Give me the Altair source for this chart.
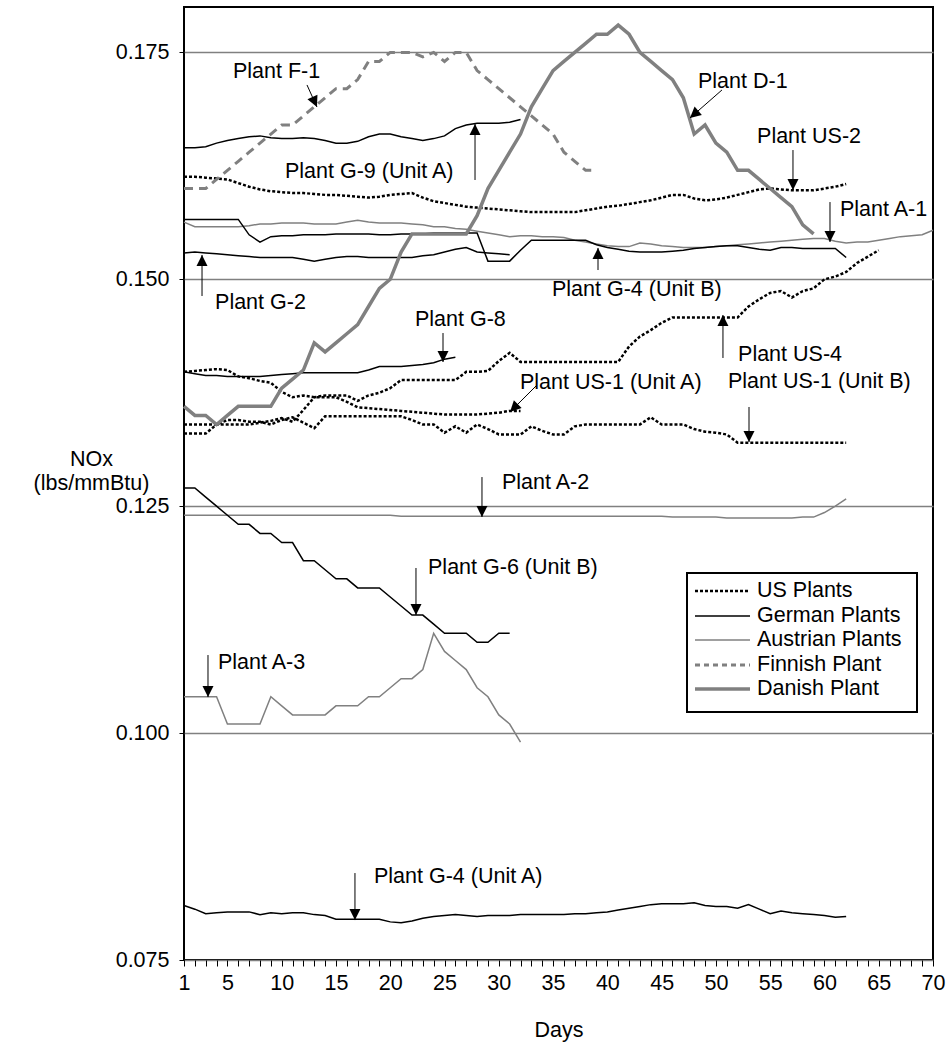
import math
import altair as alt
import pandas as pd

# ---------------- data (NOx, lbs/mmBtu, one value per day starting at day 1) ----------------
us1_unit_a = [0.1398, 0.1399, 0.1400, 0.1401, 0.1400, 0.1393, 0.1391, 0.1388, 0.1386, 0.1376,
              0.1370, 0.1372, 0.1370, 0.1370, 0.1370, 0.1365, 0.1359, 0.1358, 0.1357, 0.1356,
              0.1355, 0.1354, 0.1353, 0.1352, 0.1351, 0.1351, 0.1351, 0.1351, 0.1352, 0.1353,
              0.1355, 0.1355]
us1_unit_b = [0.1340, 0.1340, 0.1340, 0.1340, 0.1345, 0.1345, 0.1343, 0.1343, 0.1340, 0.1345,
              0.1348, 0.1342, 0.1336, 0.1349, 0.1349, 0.1349, 0.1349, 0.1349, 0.1349, 0.1349,
              0.1349, 0.1345, 0.1340, 0.1340, 0.1331, 0.1338, 0.1331, 0.1340, 0.1335, 0.1329,
              0.1329, 0.1329, 0.1338, 0.1333, 0.1329, 0.1329, 0.1338, 0.1340, 0.1340, 0.1340,
              0.1340, 0.1340, 0.1340, 0.1348, 0.1340, 0.1340, 0.1340, 0.1335, 0.1332, 0.1331,
              0.1329, 0.1320, 0.1320, 0.1320, 0.1320, 0.1320, 0.1320, 0.1320, 0.1320, 0.1320,
              0.1320, 0.1320]
us2 = [0.1613, 0.1613, 0.1612, 0.1611, 0.1610, 0.1606, 0.1602, 0.1599, 0.1597, 0.1596,
       0.1595, 0.1595, 0.1594, 0.1593, 0.1593, 0.1592, 0.1591, 0.1590, 0.1591, 0.1593,
       0.1594, 0.1595, 0.1590, 0.1586, 0.1584, 0.1582, 0.1580, 0.1579, 0.1578, 0.1577,
       0.1576, 0.1575, 0.1574, 0.1574, 0.1574, 0.1574, 0.1574, 0.1576, 0.1578, 0.1580,
       0.1581, 0.1583, 0.1585, 0.1587, 0.1590, 0.1593, 0.1593, 0.1589, 0.1587, 0.1588,
       0.1590, 0.1593, 0.1596, 0.1599, 0.1600, 0.1599, 0.1598, 0.1598, 0.1598, 0.1600,
       0.1602, 0.1605]
us4 = [0.1330, 0.1330, 0.1330, 0.1340, 0.1340, 0.1340, 0.1340, 0.1342, 0.1344, 0.1347,
       0.1343, 0.1356, 0.1370, 0.1372, 0.1372, 0.1372, 0.1366, 0.1372, 0.1375, 0.1380,
       0.1389, 0.1389, 0.1389, 0.1389, 0.1389, 0.1389, 0.1398, 0.1398, 0.1399, 0.1410,
       0.1419, 0.1409, 0.1409, 0.1409, 0.1409, 0.1409, 0.1409, 0.1409, 0.1409, 0.1409,
       0.1409, 0.1426, 0.1437, 0.1444, 0.1452, 0.1458, 0.1458, 0.1458, 0.1458, 0.1458,
       0.1458, 0.1458, 0.1470, 0.1478, 0.1485, 0.1487, 0.1480, 0.1487, 0.1490, 0.1500,
       0.1503, 0.1508, 0.1518, 0.1525, 0.1532]

g2 = [0.1529, 0.1530, 0.1529, 0.1528, 0.1527, 0.1526, 0.1525, 0.1524, 0.1524, 0.1524,
      0.1524, 0.1522, 0.1520, 0.1522, 0.1524, 0.1525, 0.1525, 0.1524, 0.1524, 0.1524,
      0.1524, 0.1524, 0.1526, 0.1527, 0.1530, 0.1533, 0.1535, 0.1530, 0.1529, 0.1528,
      0.1527]
g4_unit_a = [0.0810, 0.0806, 0.0801, 0.0802, 0.0803, 0.0803, 0.0803, 0.0800, 0.0802, 0.0801,
             0.0802, 0.0802, 0.0800, 0.0799, 0.0795, 0.0795, 0.0795, 0.0795, 0.0795, 0.0792,
             0.0791, 0.0793, 0.0796, 0.0798, 0.0799, 0.0800, 0.0799, 0.0798, 0.0799, 0.0799,
             0.0799, 0.0800, 0.0800, 0.0800, 0.0800, 0.0800, 0.0801, 0.0801, 0.0802, 0.0803,
             0.0805, 0.0807, 0.0809, 0.0811, 0.0812, 0.0812, 0.0812, 0.0813, 0.0810, 0.0809,
             0.0809, 0.0807, 0.0811, 0.0806, 0.0801, 0.0804, 0.0802, 0.0801, 0.0800, 0.0799,
             0.0797, 0.0798]
g4_unit_b = [0.1566, 0.1566, 0.1566, 0.1566, 0.1566, 0.1566, 0.1549, 0.1541, 0.1547, 0.1548,
             0.1548, 0.1549, 0.1549, 0.1549, 0.1550, 0.1550, 0.1550, 0.1550, 0.1549, 0.1549,
             0.1550, 0.1550, 0.1550, 0.1551, 0.1551, 0.1551, 0.1551, 0.1551, 0.1520, 0.1520,
             0.1520, 0.1532, 0.1543, 0.1543, 0.1543, 0.1543, 0.1543, 0.1543, 0.1538, 0.1535,
             0.1533, 0.1531, 0.1530, 0.1530, 0.1530, 0.1531, 0.1532, 0.1534, 0.1535, 0.1536,
             0.1537, 0.1537, 0.1535, 0.1533, 0.1532, 0.1535, 0.1535, 0.1534, 0.1534, 0.1534,
             0.1534, 0.1524]
g6_unit_b = [0.127, 0.127, 0.126, 0.125, 0.124, 0.123, 0.123, 0.122, 0.122, 0.121,
             0.121, 0.119, 0.119, 0.118, 0.117, 0.117, 0.116, 0.116, 0.116, 0.115,
             0.114, 0.113, 0.113, 0.112, 0.111, 0.111, 0.111, 0.110, 0.110, 0.111,
             0.111]
g8 = [0.1398, 0.1396, 0.1394, 0.1394, 0.1393, 0.1393, 0.1393, 0.1393, 0.1394, 0.1395,
      0.1396, 0.1397, 0.1397, 0.1397, 0.1397, 0.1397, 0.1397, 0.1400, 0.1404, 0.1404,
      0.1404, 0.1405, 0.1406, 0.1408, 0.1412, 0.1414]
g9_unit_a = [0.1645, 0.1645, 0.1646, 0.1650, 0.1653, 0.1655, 0.1657, 0.1658, 0.1656, 0.1655,
             0.1655, 0.1656, 0.1655, 0.1653, 0.1650, 0.1650, 0.1652, 0.1657, 0.1660, 0.1660,
             0.1657, 0.1655, 0.1653, 0.1655, 0.1658, 0.1666, 0.1670, 0.1672, 0.1672, 0.1672,
             0.1673, 0.1676]

a1 = [0.1563, 0.1558, 0.1558, 0.1558, 0.1558, 0.1558, 0.1559, 0.1561, 0.1561, 0.1562,
      0.1562, 0.1562, 0.1561, 0.1561, 0.1561, 0.1563, 0.1565, 0.1563, 0.1562, 0.1562,
      0.1562, 0.1561, 0.1560, 0.1558, 0.1558, 0.1556, 0.1555, 0.1553, 0.1551, 0.1549,
      0.1547, 0.1548, 0.1548, 0.1547, 0.1547, 0.1546, 0.1543, 0.1541, 0.1539, 0.1537,
      0.1536, 0.1536, 0.1540, 0.1539, 0.1537, 0.1536, 0.1535, 0.1535, 0.1535, 0.1536,
      0.1537, 0.1538, 0.1539, 0.1540, 0.1541, 0.1542, 0.1543, 0.1544, 0.1545, 0.1545,
      0.1542, 0.1540, 0.1541, 0.1541, 0.1543, 0.1545, 0.1547, 0.1548, 0.1549, 0.1554]
a2 = [0.1240, 0.1240, 0.1240, 0.1240, 0.1240, 0.1240, 0.1240, 0.1240, 0.1240, 0.1240,
      0.1240, 0.1240, 0.1240, 0.1240, 0.1240, 0.1240, 0.1240, 0.1240, 0.1240, 0.1240,
      0.1239, 0.1239, 0.1239, 0.1239, 0.1239, 0.1239, 0.1239, 0.1239, 0.1239, 0.1239,
      0.1239, 0.1239, 0.1239, 0.1239, 0.1239, 0.1239, 0.1239, 0.1239, 0.1239, 0.1239,
      0.1239, 0.1239, 0.1239, 0.1239, 0.1239, 0.1238, 0.1238, 0.1238, 0.1238, 0.1238,
      0.1237, 0.1237, 0.1237, 0.1237, 0.1237, 0.1237, 0.1237, 0.1238, 0.1238, 0.1243,
      0.1250, 0.1258]
a3 = [0.104, 0.104, 0.104, 0.104, 0.101, 0.101, 0.101, 0.101, 0.104, 0.103,
      0.102, 0.102, 0.102, 0.102, 0.103, 0.103, 0.103, 0.104, 0.104, 0.105,
      0.106, 0.106, 0.107, 0.111, 0.109, 0.108, 0.107, 0.105, 0.104, 0.102,
      0.101, 0.099]

f1 = [0.160, 0.160, 0.160, 0.161, 0.162, 0.163, 0.164, 0.165, 0.166, 0.167,
      0.167, 0.168, 0.169, 0.170, 0.171, 0.171, 0.172, 0.174, 0.174, 0.175,
      0.175, 0.175, 0.1745, 0.175, 0.174, 0.175, 0.175, 0.173, 0.172, 0.171,
      0.170, 0.169, 0.168, 0.167, 0.166, 0.164, 0.163, 0.162, 0.162]

d1 = [0.136, 0.135, 0.135, 0.134, 0.135, 0.136, 0.136, 0.136, 0.136, 0.138,
      0.139, 0.140, 0.143, 0.142, 0.143, 0.144, 0.145, 0.147, 0.149, 0.150,
      0.153, 0.155, 0.155, 0.155, 0.155, 0.155, 0.155, 0.157, 0.160, 0.162,
      0.164, 0.166, 0.169, 0.171, 0.173, 0.174, 0.175, 0.176, 0.177, 0.177,
      0.178, 0.177, 0.175, 0.174, 0.173, 0.172, 0.170, 0.166, 0.167, 0.165,
      0.164, 0.162, 0.162, 0.161, 0.160, 0.159, 0.158, 0.156, 0.155]

series = [
    ("US-1 (Unit A)", "US", us1_unit_a),
    ("US-1 (Unit B)", "US", us1_unit_b),
    ("US-2", "US", us2),
    ("US-4", "US", us4),
    ("G-2", "German", g2),
    ("G-4 (Unit A)", "German", g4_unit_a),
    ("G-4 (Unit B)", "German", g4_unit_b),
    ("G-6 (Unit B)", "German", g6_unit_b),
    ("G-8", "German", g8),
    ("G-9 (Unit A)", "German", g9_unit_a),
    ("A-1", "Austrian", a1),
    ("A-2", "Austrian", a2),
    ("A-3", "Austrian", a3),
    ("F-1", "Finnish", f1),
    ("D-1", "Danish", d1),
]

# annotation labels: text (left edge day, centre value), arrow start and arrow tip
ann_labels = ["Plant F-1", "Plant G-9 (Unit A)", "Plant D-1", "Plant US-2", "Plant A-1",
              "Plant G-2", "Plant G-4 (Unit B)", "Plant G-8", "Plant US-4",
              "Plant US-1 (Unit A)", "Plant US-1 (Unit B)", "Plant A-2",
              "Plant G-6 (Unit B)", "Plant A-3", "Plant G-4 (Unit A)"]
ann_text_day = [5.51, 10.30, 48.35, 53.79, 61.43, 3.86, 34.90, 22.28, 52.04, 31.95, 51.11, 30.29, 23.48, 4.13, 18.50]
ann_text_val = [0.17284, 0.16182, 0.17174, 0.16568, 0.15763, 0.14739, 0.14882, 0.14551, 0.14166,
                0.13857, 0.13868, 0.12755, 0.11819, 0.10772, 0.08414]
arrow_from_day = [12.33, 27.81, 50.56, 57.10, 60.51, 2.66, 39.14, 24.86, 50.65, 33.52, 53.05, 28.45, 22.37, 3.21, 16.75]
arrow_from_val = [0.17141, 0.16094, 0.17086, 0.16424, 0.15851, 0.14816, 0.15102, 0.14408, 0.14133,
                  0.13835, 0.13593, 0.12821, 0.11819, 0.10860, 0.08458]
arrow_to_day = [13.25, 27.81, 47.61, 57.10, 60.51, 2.66, 39.14, 24.86, 50.65, 31.03, 53.05, 28.45, 22.37, 3.21, 16.75]
arrow_to_val = [0.16898, 0.16711, 0.16777, 0.15984, 0.15411, 0.15268, 0.15345, 0.14089, 0.14606,
                0.13538, 0.13207, 0.12381, 0.11301, 0.10397, 0.07940]

legend_labels = ["US Plants", "German Plants", "Austrian Plants", "Finnish Plant", "Danish Plant"]
legend_groups = ["US", "German", "Austrian", "Finnish", "Danish"]

# ---------------- styling ----------------
FONT = "Liberation Sans"
FS = 21.5
GRAY = "#808080"
W, H = 749, 953
X_DOMAIN = [1, 70]
Y_DOMAIN = [0.075, 0.18]

styles = {
    "US": dict(color="black", strokeWidth=2.5, strokeDash=[3, 2]),
    "German": dict(color="black", strokeWidth=1.5),
    "Austrian": dict(color=GRAY, strokeWidth=1.5),
    "Finnish": dict(color=GRAY, strokeWidth=3, strokeDash=[9, 6]),
    "Danish": dict(color=GRAY, strokeWidth=3.5),
}
legend_styles = dict(styles)
legend_styles["Finnish"] = dict(color=GRAY, strokeWidth=3, strokeDash=[5, 4])

rows = []
for name, grp, vals in series:
    for i, v in enumerate(vals):
        rows.append({"plant": name, "group": grp, "day": i + 1, "nox": v})
df = pd.DataFrame(rows)

x_axis = alt.Axis(
    values=list(range(1, 71)),
    labelExpr="(datum.value == 1 || datum.value % 5 == 0) ? datum.label : ''",
    format="d", tickSize=6, tickColor="black", tickWidth=1, domain=False, grid=False,
    labelFont=FONT, labelFontSize=FS, labelColor="black", labelBaseline="middle",
    labelPadding=17, labelFlush=False, labelOverlap=False,
    title="Days", titleFont=FONT, titleFontSize=FS, titleFontWeight="normal",
    titleColor="black", titleY=70, titleBaseline="middle",
)
y_axis = alt.Axis(
    values=[0.075, 0.100, 0.125, 0.150, 0.175], format=".3f",
    tickSize=5, tickColor="black", domain=False,
    grid=True, gridColor=GRAY, gridWidth=1.5,
    labelFont=FONT, labelFontSize=FS, labelColor="black", labelPadding=10,
    labelFlush=False, labelOverlap=False,
    title=["NOx", "(lbs/mmBtu)"], titleFont=FONT, titleFontSize=FS, titleFontWeight="normal",
    titleColor="black", titleAngle=0, titleX=-93, titleY=452, titleAlign="center",
    titleBaseline="middle", titleLineHeight=24,
)

X = alt.X("day:Q", scale=alt.Scale(domain=X_DOMAIN, nice=False, zero=False), axis=x_axis)
Y = alt.Y("nox:Q", scale=alt.Scale(domain=Y_DOMAIN, nice=False, zero=False), axis=y_axis)

layers = []
for grp in ["Austrian", "German", "US", "Finnish", "Danish"]:
    sub = df[df["group"] == grp]
    layers.append(
        alt.Chart(sub).mark_line(strokeCap="butt", strokeJoin="miter", **styles[grp]).encode(
            x=X, y=Y, detail="plant:N"
        )
    )

# annotations
kx = W / (X_DOMAIN[1] - X_DOMAIN[0])
ky = H / (Y_DOMAIN[1] - Y_DOMAIN[0])
angles = []
for i in range(len(ann_labels)):
    dx = (arrow_to_day[i] - arrow_from_day[i]) * kx
    dy = -(arrow_to_val[i] - arrow_from_val[i]) * ky
    angles.append(math.degrees(math.atan2(dx, -dy)) % 360)

text_df = pd.DataFrame({"day": ann_text_day, "nox": ann_text_val, "label": ann_labels})
arrow_df = pd.DataFrame({"day": arrow_from_day, "nox": arrow_from_val,
                         "day2": arrow_to_day, "nox2": arrow_to_val})
head_df = pd.DataFrame({"day": arrow_to_day, "nox": arrow_to_val, "angle": angles})

layers.append(alt.Chart(arrow_df).mark_rule(color="black", strokeWidth=1).encode(
    x=X, y=Y, x2="day2:Q", y2="nox2:Q"))
layers.append(alt.Chart(head_df).mark_point(
    shape="M0,0L-1,2L1,2Z", size=121, filled=True, color="black", opacity=1, strokeWidth=0
).encode(x=X, y=Y, angle=alt.Angle("angle:Q", scale=None)))
layers.append(alt.Chart(text_df).mark_text(
    align="left", baseline="middle", font=FONT, fontSize=FS, color="black"
).encode(x=X, y=Y, text="label:N"))

# legend box (pixel placement inside the plot)
one = pd.DataFrame({"k": [0]})
layers.append(alt.Chart(one).mark_rect(fill="white", stroke="black", strokeWidth=2).encode(
    x=alt.value(503), x2=alt.value(733), y=alt.value(566), y2=alt.value(705)))
legend_rows_y = [584, 609, 633, 658, 682]
for lab, grp, yy in zip(legend_labels, legend_groups, legend_rows_y):
    layers.append(alt.Chart(one).mark_rule(strokeCap="butt", **legend_styles[grp]).encode(
        x=alt.value(511), x2=alt.value(566), y=alt.value(yy)))
    layers.append(alt.Chart(one).mark_text(
        align="left", baseline="middle", font=FONT, fontSize=FS, color="black", text=lab
    ).encode(x=alt.value(573), y=alt.value(yy)))

chart = alt.layer(*layers).properties(
    width=W, height=H,
    autosize=alt.AutoSizeParams(type="none"),
    padding={"left": 184, "top": 7, "right": 13, "bottom": 82},
    background="white",
).configure_view(stroke="black", strokeWidth=2)

chart.save("out.html", embed_options={"renderer": "svg", "actions": False})
